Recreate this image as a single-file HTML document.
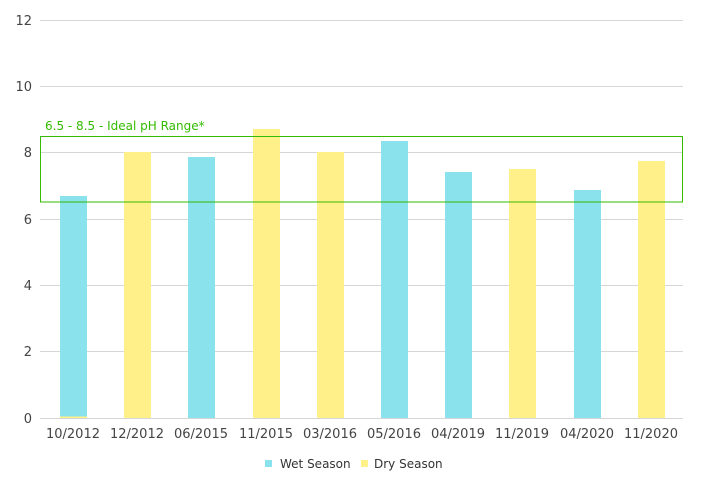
<!DOCTYPE html><html><head><style>body{margin:0;background:#fff}</style></head><body>
<svg width="702" height="498" xmlns="http://www.w3.org/2000/svg" font-family="DejaVu Sans, sans-serif" font-size="13" fill="#444">
<g stroke="#d6d6d6" stroke-width="1">
<line x1="40" x2="683" y1="20.5" y2="20.5"/><line x1="40" x2="683" y1="86.5" y2="86.5"/><line x1="40" x2="683" y1="152.5" y2="152.5"/><line x1="40" x2="683" y1="219.5" y2="219.5"/><line x1="40" x2="683" y1="285.5" y2="285.5"/><line x1="40" x2="683" y1="351.5" y2="351.5"/><line x1="40" x2="683" y1="418.5" y2="418.5"/>
</g>
<g text-anchor="end">
<text x="32" y="25">12</text><text x="32" y="91">10</text><text x="32" y="157">8</text><text x="32" y="224">6</text><text x="32" y="290">4</text><text x="32" y="356">2</text><text x="32" y="423">0</text>
</g>
<rect x="60" y="196" width="27" height="222" fill="#8ae2ed"/>
<rect x="60" y="416.5" width="27" height="1.5" fill="#fff08a"/>
<rect x="124" y="152" width="27" height="266" fill="#fff08a"/>
<rect x="188" y="157" width="27" height="261" fill="#8ae2ed"/>
<rect x="253" y="129" width="27" height="289" fill="#fff08a"/>
<rect x="317" y="152" width="27" height="266" fill="#fff08a"/>
<rect x="381" y="141" width="27" height="277" fill="#8ae2ed"/>
<rect x="445" y="172" width="27" height="246" fill="#8ae2ed"/>
<rect x="509" y="169" width="27" height="249" fill="#fff08a"/>
<rect x="574" y="190" width="27" height="228" fill="#8ae2ed"/>
<rect x="638" y="161" width="27" height="257" fill="#fff08a"/>
<rect x="40.5" y="136.5" width="642" height="65.5" fill="none" stroke="#33bb00" stroke-width="1"/>
<text x="45" y="130" fill="#33bb00" font-size="12">6.5 - 8.5 - Ideal pH Range*</text>
<g text-anchor="middle">
<text x="73" y="438">10/2012</text><text x="137" y="438">12/2012</text><text x="201" y="438">06/2015</text><text x="266" y="438">11/2015</text><text x="330" y="438">03/2016</text><text x="394" y="438">05/2016</text><text x="458" y="438">04/2019</text><text x="522" y="438">11/2019</text><text x="587" y="438">04/2020</text><text x="651" y="438">11/2020</text>
</g>
<rect x="265" y="460" width="7" height="7" fill="#8ae2ed"/>
<text x="280" y="468" font-size="12" fill="#333">Wet Season</text>
<rect x="361" y="460" width="7" height="7" fill="#fff08a"/>
<text x="374" y="468" font-size="12" fill="#333">Dry Season</text>
</svg></body></html>
